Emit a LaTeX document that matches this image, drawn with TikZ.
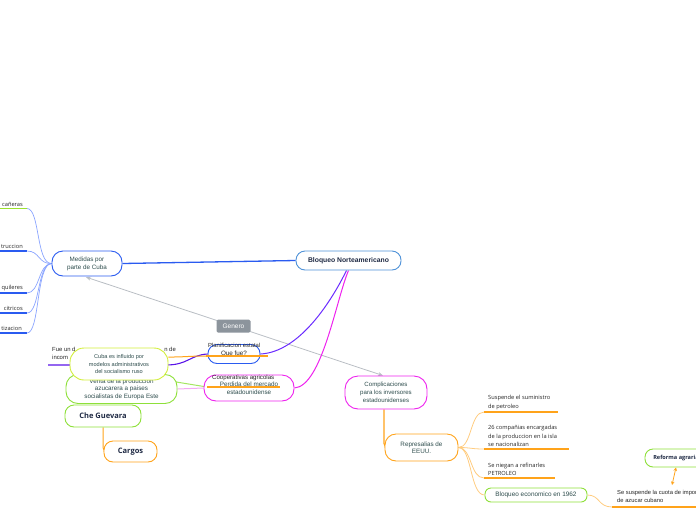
\documentclass[tikz,border=0pt]{standalone}
\usepackage{fontspec}
\setmainfont{Liberation Sans}
\newfontfamily\leaffont{Open Sans}
\usetikzlibrary{arrows.meta,backgrounds}
\definecolor{txt}{HTML}{2E4D4D}
\definecolor{navy}{HTML}{1F2A44}
\definecolor{blueA}{HTML}{2A5BF0}
\definecolor{blueL}{HTML}{8AA4FF}
\definecolor{bloqB}{HTML}{4F92D8}
\definecolor{orng}{HTML}{FFA31A}
\definecolor{orngL}{HTML}{FFCC80}
\definecolor{mag}{HTML}{EE22EE}
\definecolor{purp}{HTML}{6A2BFF}
\definecolor{purpD}{HTML}{5A14E8}
\definecolor{grn}{HTML}{8EE03A}
\definecolor{lime}{HTML}{9BE22D}
\definecolor{ylg}{HTML}{D2EE3A}
\definecolor{gry}{HTML}{B9BEC4}
\definecolor{genbg}{HTML}{8C949C}
\definecolor{pinkL}{HTML}{F3A8F3}
\tikzset{
  nbox/.style={draw, fill=white, line width=0.9pt, align=center, inner sep=0pt, text=txt, rounded corners=9pt},
  leaf/.style={font=\leaffont\fontsize{5.7}{8.6}\selectfont, align=left, inner sep=0pt, text=black!85},
  plain/.style={font=\fontsize{5.9}{7}\selectfont, inner sep=0pt, text=black!85},
  genlbl/.style={fill=genbg, text=white, font=\fontsize{6.5}{8}\selectfont, minimum width=34pt, minimum height=13pt, inner sep=0pt, rounded corners=1.5pt},
  ul/.style={line width=1.1pt},
}
\begin{document}
\begin{tikzpicture}[x=1pt,y=-1pt]
\useasboundingbox (0,0) rectangle (696,520);

% ---------- main nodes ----------
\node[nbox, draw=blueA, minimum width=70pt, minimum height=25pt, rounded corners=11pt, font=\fontsize{6.3}{8}\selectfont] (med) at (87,263.5) {Medidas por\\parte de Cuba};
\node[nbox, draw=bloqB, minimum width=105pt, minimum height=19pt, font=\bfseries\fontsize{6.8}{8}\selectfont, text=navy] (bloq) at (348.5,260.5) {Bloqueo Norteamericano};
\node[nbox, draw=blueA, minimum width=52pt, minimum height=19pt, font=\fontsize{6.3}{8}\selectfont, text=black!85] (que) at (234,354) {Que fue?};
\node[nbox, draw=grn, minimum width=111pt, minimum height=29pt, rounded corners=12pt, font=\fontsize{6.3}{7.6}\selectfont] (venta) at (121.5,389) {Venta de la produccion\\azucarera a paises\\socialistas de Europa Este};
\node[nbox, draw=ylg, minimum width=98pt, minimum height=32pt, rounded corners=14pt, font=\fontsize{5.6}{7.2}\selectfont] (cuba) at (119,364) {Cuba es influido por\\modelos administrativos\\del socialismo ruso};
\node[nbox, draw=mag, minimum width=90pt, minimum height=26pt, rounded corners=12pt, font=\fontsize{6.3}{8}\selectfont] (perd) at (249,388) {Perdida del mercado\\estadounidense};
\node[nbox, draw=grn, minimum width=76pt, minimum height=22pt, font=\leaffont\bfseries\fontsize{7.5}{9}\selectfont, text=navy] (che) at (103,416) {Che Guevara};
\node[nbox, draw=orng, minimum width=53pt, minimum height=21pt, font=\leaffont\bfseries\fontsize{7.5}{9}\selectfont, text=navy] (cargos) at (130.5,451.5) {Cargos};
\node[nbox, draw=mag, minimum width=82pt, minimum height=33pt, rounded corners=13pt, font=\fontsize{6.1}{8}\selectfont] (comp) at (386,392.5) {Complicaciones\\para los inversores\\estadounidenses};
\node[nbox, draw=orng, minimum width=73pt, minimum height=27pt, rounded corners=11pt, font=\fontsize{6.3}{7.2}\selectfont] (repr) at (421.5,447.5) {Represalias de\\EEUU.};
\node[nbox, draw=grn, minimum width=102pt, minimum height=14pt, rounded corners=6pt, font=\fontsize{6.4}{8}\selectfont] (bloqe) at (536,495) {Bloqueo economico en 1962};
\node[nbox, draw=grn, minimum width=62pt, minimum height=18pt, rounded corners=8pt, font=\leaffont\bfseries\fontsize{5.6}{7}\selectfont, text=navy] (ref) at (676,458) {Reforma agraria};

% ---------- leaves ----------
\node[leaf, anchor=south east] (m1) at (23,206.5) {cañeras};
\node[leaf, anchor=south east] (m2) at (23,249) {truccion};
\node[leaf, anchor=south east] (m3) at (23,291) {quileres};
\node[leaf, anchor=south east] (m4) at (23,311) {citricos};
\node[leaf, anchor=south east] (m5) at (22,331) {tizacion};
\coordinate (m1s) at (0,208.5); \coordinate (m1u) at (27,208.5);
\coordinate (m2s) at (0,251);   \coordinate (m2u) at (27,251);
\coordinate (m3s) at (0,293);   \coordinate (m3u) at (27,293);
\coordinate (m4s) at (0,313);   \coordinate (m4u) at (27,313);
\coordinate (m5s) at (0,333);   \coordinate (m5u) at (27,333);

\node[leaf, anchor=south west] (l1) at (488,410) {Suspende el suministro\\de petroleo};
\node[leaf, anchor=south west] (l2) at (488,447) {26 compañias encargadas\\de la produccion en la isla\\se nacionalizan};
\node[leaf, anchor=south west] (l3) at (488,476) {Se niegan a refinarles\\PETROLEO};
\coordinate (l1a) at (484,412); \coordinate (l1b) at (558,412);
\coordinate (l2a) at (484,449); \coordinate (l2b) at (569,449);
\coordinate (l3a) at (484,478); \coordinate (l3b) at (555,478);

\node[leaf, anchor=south west, font=\fontsize{5.8}{8}\selectfont] (susp) at (617,503) {Se suspende la cuota de importacion\\de azucar cubano};
\coordinate (su1) at (612,507); \coordinate (su2) at (700,507);
\coordinate (ra) at (672,485);

\coordinate (fu1) at (48,365); \coordinate (fu2) at (166,365);
\coordinate (planL) at (206,356); \coordinate (planR) at (268,356);
\coordinate (coopL) at (207,387); \coordinate (coopR) at (280,387);

% ---------- overlays on nodes ----------
\node[plain, anchor=base west] (plan) at (208,347.5) {Planificacion estatal};
\draw[orng, ul] (planL) -- (planR);
\node[plain, anchor=base west, font=\fontsize{6.1}{7}\selectfont] (coop) at (212,379) {Cooperativas agricolas};
\draw[orng, ul] (coopL) -- (coopR);

% ---------- connectors ----------
\begin{pgfonlayer}{background}
  \draw[lime, ul] (m1s) -- (m1u);
  \draw[blueA, ul] (m2s) -- (m2u);
  \draw[blueA, ul] (m3s) -- (m3u);
  \draw[blueA, ul] (m4s) -- (m4u);
  \draw[blueA, ul] (m5s) -- (m5u);
  \draw[blueL, line width=0.7pt] (m1u) .. controls (40,208.5) and (36,264) .. (med.west);
  \draw[blueL, line width=0.7pt] (m2u) .. controls (40,251) and (38,264) .. (med.west);
  \draw[blueL, line width=0.7pt] (m3u) .. controls (40,293) and (38,264) .. (med.west);
  \draw[blueL, line width=0.7pt] (m4u) .. controls (40,313) and (37,264) .. (med.west);
  \draw[blueL, line width=0.7pt] (m5u) .. controls (40,333) and (36,264) .. (med.west);
  \draw[blueA, line width=1.3pt] (med.east) -- (bloq.west);

  \draw[gry, line width=0.8pt, {Stealth[length=5pt,width=4pt]}-{Stealth[length=5pt,width=4pt]}, shorten <=2pt]
    ([xshift=-3pt]med.south) -- node[genlbl, pos=0.5] (gen) {Genero} ([xshift=-3pt]comp.north);

  \draw[purp, line width=1pt] (que.east) .. controls (300,352) and (332,300) .. ([xshift=-2pt]bloq.south);
  \draw[mag, line width=1pt] (perd.east) .. controls (322,386) and (336,300) .. ([xshift=0pt]bloq.south);

  \node[plain, anchor=base west] (fua) at (52,351) {Fue un d};
  \node[plain, anchor=base east] (fub) at (176,351) {n de};
  \node[plain, anchor=base west] (fuc) at (52,359) {incom};
  \draw[purpD, line width=1.1pt] (fu1) -- (fu2) .. controls (188,365) and (190,355) .. (que.west);

  \draw[orng, line width=1pt] (cuba.8) .. controls (186,357) and (190,356) .. (planL);
  \draw[grn!80!white, line width=1pt] (cuba.-19) -- (coopL);
  \draw[pinkL, line width=1pt] (venta.east) -- (perd.west);

  \draw[orng, line width=1pt, rounded corners=4pt] (che.south) |- (cargos.west);
  \draw[orng, line width=1.2pt, rounded corners=4pt] ([xshift=-2pt]comp.south) |- (repr.west);

  \draw[orngL, line width=0.8pt] (repr.east) .. controls (472,447.5) and (470,412) .. (l1a);
  \draw[orngL, line width=0.8pt] (repr.east) .. controls (472,447.5) and (470,449) .. (l2a);
  \draw[orngL, line width=0.8pt] (repr.east) .. controls (472,447.5) and (470,478) .. (l3a);
  \draw[orngL, line width=0.8pt] (repr.east) .. controls (472,447.5) and (470,495) .. (bloqe.west);
  \draw[orng, ul] (l1a) -- (l1b);
  \draw[orng, ul] (l2a) -- (l2b);
  \draw[orng, ul] (l3a) -- (l3b);

  \draw[orngL, line width=0.8pt] (bloqe.east) .. controls (600,495) and (598,507) .. (su1);
  \draw[orng, ul] (su1) -- (su2);
  \draw[orng, line width=0.8pt, {Stealth[length=3.5pt,width=3.5pt]}-{Stealth[length=3.5pt,width=3.5pt]}] (ref.south) -- (ra);
\end{pgfonlayer}
\end{tikzpicture}
\end{document}
